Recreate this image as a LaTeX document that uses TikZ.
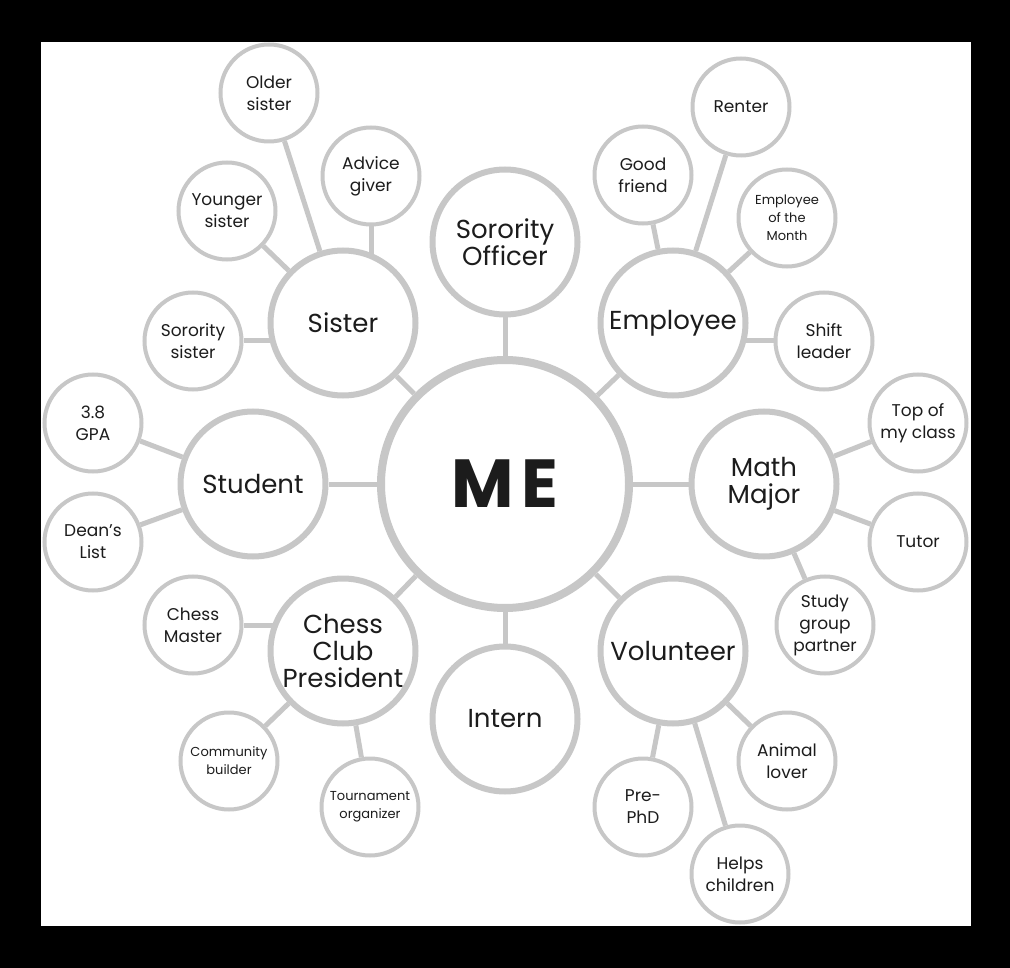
\documentclass[tikz,border=0pt]{standalone}
\usepackage{fontspec}
\setmainfont{Poppins}
\usetikzlibrary{backgrounds}
\definecolor{ring}{RGB}{199,199,199}
\definecolor{ink}{RGB}{28,28,28}
\begin{document}
\begin{tikzpicture}[x=1pt, y=-1pt,
		role/.style={circle, draw=ring, line width=6pt, fill=white, minimum size=145pt, inner sep=0pt, align=center, text=ink, font=\fontsize{26}{27}\selectfont},
		trait/.style={circle, draw=ring, line width=4pt, fill=white, minimum size=97pt, inner sep=0pt, align=center, text=ink, font=\fontsize{17}{22}\selectfont},
		small/.style={font=\fontsize{13}{18}\selectfont},
		link/.style={draw=ring, line width=5pt}]
				\useasboundingbox (0,0) rectangle (1010,968);
				\begin{pgfonlayer}{background}
				\fill[black] (0,0) rectangle (1010,968);
				\fill[white] (41,42) rectangle (971,926);
				\end{pgfonlayer}
				% centre
				\node[circle, draw=ring, line width=8pt, fill=white, minimum size=248pt, text=ink, font=\bfseries\fontsize{68}{68}\selectfont] (me) at (505,484) {M\kern7pt E};
				% roles
				\node[role] (sister) at (343,323) {Sister};
				\node[role] (officer) at (505,242) {Sorority\\Officer};
				\node[role] (employee) at (673,323) {Employee};
				\node[role] (student) at (253,484) {Student};
				\node[role] (math) at (764,484) {Math\\Major};
				\node[role] (chess) at (343,651) {Chess\\Club\\President};
				\node[role] (intern) at (505,719) {Intern};
				\node[role] (volunteer) at (673,651) {Volunteer};
				% traits
				\node[trait] (older) at (269,93) {Older\\sister};
				\node[trait] (advice) at (371,176) {Advice\\giver};
				\node[trait] (younger) at (227,211) {Younger\\sister};
				\node[trait] (sorority) at (193,341) {Sorority\\sister};
				\node[trait] (gpa) at (93,423) {3.8\\GPA};
				\node[trait] (dean) at (93,542) {Dean's\\List};
				\node[trait] (master) at (193,625) {Chess\\Master};
				\node[trait, small] (community) at (229,761) {Community\\builder};
				\node[trait, small] (tournament) at (370,807) {Tournament\\organizer};
				\node[trait] (friend) at (643,175) {Good\\friend};
				\node[trait] (renter) at (741,107) {Renter};
				\node[trait, small] (month) at (787,218) {Employee\\of the\\Month};
				\node[trait] (shift) at (824,341) {Shift\\leader};
				\node[trait] (top) at (918,423) {Top of\\my class};
				\node[trait] (tutor) at (918,542) {Tutor};
				\node[trait] (study) at (825,625) {Study\\group\\partner};
				\node[trait] (phd) at (643,807) {Pre-\\PhD};
				\node[trait] (helps) at (740,874) {Helps\\children};
				\node[trait] (animal) at (787,761) {Animal\\lover};
				% links, under the circles
				\begin{pgfonlayer}{background}
				\foreach \r in {sister,officer,employee,student,math,chess,intern,volunteer}
					\draw[link] (me) -- (\r);
				\foreach \t in {older,younger}
					\draw[link] (sister) -- (\t);
				\draw[link] (advice) -- (advice |- sister);
				\draw[link] (sorority) -- (sorority -| sister);
				\foreach \t in {gpa,dean}
					\draw[link] (student) -- (\t);
				\draw[link] (master) -- (master -| chess);
				\foreach \t in {community,tournament}
					\draw[link] (chess) -- (\t);
				\foreach \t in {friend,renter,month}
					\draw[link] (employee) -- (\t);
				\draw[link] (shift) -- (shift -| employee);
				\foreach \t in {top,tutor,study}
					\draw[link] (math) -- (\t);
				\foreach \t in {phd,helps,animal}
					\draw[link] (volunteer) -- (\t);
				\end{pgfonlayer}
			\end{tikzpicture}
\end{document}
